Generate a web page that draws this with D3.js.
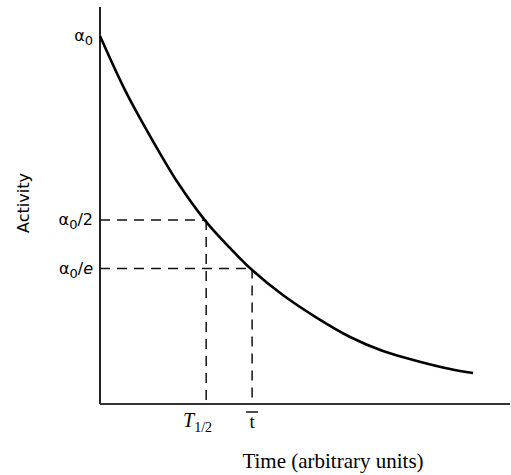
<!DOCTYPE html>
<html><head><meta charset="utf-8">
<script src="https://cdn.jsdelivr.net/npm/d3@7"></script>
<style>body{margin:0;background:#fff}</style>
</head><body>
<script>
// Data (time in arbitrary units, activity as fraction of alpha0)
const times    = [0, 0.61, 1.15, 1.90, 2.59, 3.17, 3.71, 4.46, 5.29, 6.10, 6.90, 7.73, 8.54, 9.10];
const activity = [1.000, 0.853, 0.742, 0.601, 0.495, 0.424, 0.364, 0.296, 0.234, 0.182, 0.144, 0.117, 0.095, 0.084];
const halfLife = 2.59;      // T1/2
const meanLife = 3.71;      // t-bar
const levelLabels = ["α0", "α0/2", "α0/e"];
const levelValues = [1.0, 0.5, 1 / Math.E];

const W = 511, H = 475;
const svg = d3.select("body").append("svg").attr("width", W).attr("height", H);

const x = d3.scaleLinear().domain([0, 10]).range([100, 510]);
const y = d3.scaleLinear().domain([0, 1]).range([404, 36]);

// axes
svg.append("line").attr("x1", x(0)).attr("x2", x(0)).attr("y1", y(1.079)).attr("y2", y(0))
  .attr("stroke", "#222").attr("stroke-width", 2);
svg.append("line").attr("x1", x(0)).attr("x2", x(10)).attr("y1", y(0)).attr("y2", y(0))
  .attr("stroke", "#333").attr("stroke-width", 2);

// dashed guides
const dash = "10,7";
function guide(x1, x2, y1, y2) {
  svg.append("line").attr("x1", x1).attr("x2", x2).attr("y1", y1).attr("y2", y2)
    .attr("stroke", "#111").attr("stroke-width", 1.5).attr("stroke-dasharray", dash);
}
guide(x(0), x(halfLife), y(0.5), y(0.5));
guide(x(halfLife), x(halfLife), y(0.5), y(0));
guide(x(0), x(meanLife), y(1 / Math.E), y(1 / Math.E));
guide(x(meanLife), x(meanLife), y(1 / Math.E), y(0));

// curve
const pts = times.map((t, i) => [t, activity[i]]);
svg.append("path").datum(pts)
  .attr("d", d3.line().x(d => x(d[0])).y(d => y(d[1])).curve(d3.curveCatmullRom.alpha(0.5)))
  .attr("fill", "none").attr("stroke", "#000").attr("stroke-width", 2.6);

// y labels
const sans = "'DejaVu Sans', 'Noto Sans', sans-serif";
levelLabels.forEach((lab, i) => {
  const t = svg.append("text").attr("x", 93).attr("y", y(levelValues[i]) + 5)
    .attr("text-anchor", "end").attr("font-family", sans).attr("font-size", 16).attr("fill", "#000");
  t.append("tspan").text("α");
  t.append("tspan").text("0").attr("font-size", 13).attr("dy", 4);
  if (i === 1) t.append("tspan").text("/2").attr("dy", -4);
  if (i === 2) { t.append("tspan").text("/").attr("dy", -4); t.append("tspan").text("e").attr("font-style", "italic"); }
});

// y axis title
svg.append("text").attr("transform", "translate(29,203) rotate(-90)")
  .attr("text-anchor", "middle").attr("font-family", sans).attr("font-size", 16).text("Activity");

// x labels
const serif = "'Liberation Serif', 'DejaVu Serif', serif";
const th = svg.append("text").attr("x", 183).attr("y", 427).attr("text-anchor", "start")
  .attr("font-family", serif).attr("font-size", 20);
th.append("tspan").text("T").attr("font-style", "italic");
th.append("tspan").text("1/2").attr("font-size", 14).attr("dy", 5);
svg.append("text").attr("x", x(meanLife)).attr("y", 428).attr("text-anchor", "middle")
  .attr("font-family", serif).attr("font-size", 19).text("t");
svg.append("line").attr("x1", x(meanLife) - 6).attr("x2", x(meanLife) + 6).attr("y1", 412).attr("y2", 412)
  .attr("stroke", "#000").attr("stroke-width", 1.4);

svg.append("text").attr("x", 333).attr("y", 468).attr("text-anchor", "middle")
  .attr("font-family", serif).attr("font-size", 21).text("Time (arbitrary units)");
</script>
</body></html>
